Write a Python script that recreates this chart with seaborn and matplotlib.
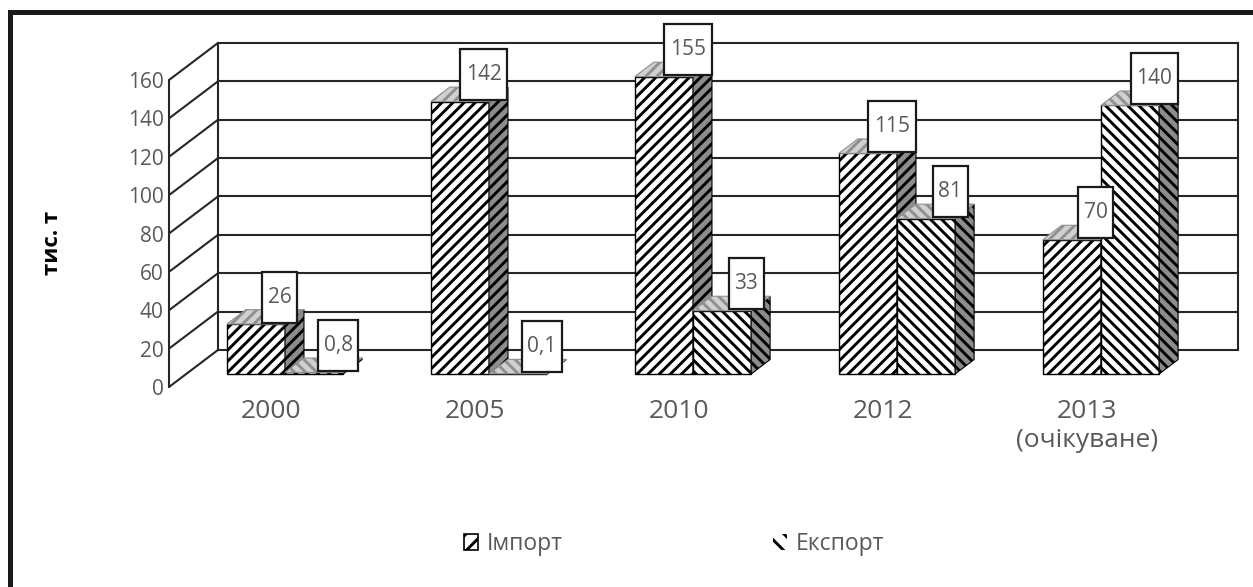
import numpy as np
import pandas as pd
import matplotlib
matplotlib.use('Agg')
import matplotlib.pyplot as plt
import seaborn as sns
from matplotlib.patches import Polygon, Rectangle, Patch
from matplotlib.path import Path
from matplotlib.transforms import ScaledTranslation

# ---------------- data ----------------
years = ['2000', '2005', '2010', '2012', '2013\n(очікуване)']
series = ['Імпорт', 'Експорт']
import_vals = [26, 142, 155, 115, 70]
export_vals = [0.8, 0.1, 33, 81, 140]
y_ticks = [0, 20, 40, 60, 80, 100, 120, 140, 160]
y_label = 'тис. т'

# ---------------- style ----------------
sns.set_style('white')
plt.rcParams['font.family'] = ['Open Sans', 'DejaVu Sans']
plt.rcParams['hatch.linewidth'] = 2.1

df = pd.DataFrame({
    'year': years * 2,
    'series': [series[0]] * len(years) + [series[1]] * len(years),
    'value': import_vals + export_vals,
})

W, H = 1253, 587
fig = plt.figure(figsize=(W / 100, H / 100), dpi=100)
ax = fig.add_axes([169 / W, (H - 387) / H, (1238 - 169) / W, 344 / H])

OFF = 6.8        # floor of bars above front zero (value units)
DEPTH_Y = 19.3   # wall depth (value units)
DEPTH_X = 0.24   # wall depth (category units)
BDX, BDY = 0.093, 7.5  # bar depth
XMIN, XMAX = -0.5686, 4.6716

sns.barplot(data=df, x='year', y='value', hue='series', order=years,
            hue_order=series, palette={series[0]: 'white', series[1]: 'white'},
            width=0.57, edgecolor='black', linewidth=1.0, saturation=1,
            errorbar=None, legend=False, ax=ax)

ax.set_xlim(XMIN, XMAX)
ax.set_ylim(-OFF, 160 + DEPTH_Y - OFF)

# ---------------- pseudo-3D walls ----------------
grid_c = '#262626'
for v in y_ticks:
    yb = v - OFF + DEPTH_Y
    ax.plot([XMIN + DEPTH_X, XMAX], [yb, yb], color=grid_c, lw=1.5,
            zorder=0.5, clip_on=False, solid_capstyle='projecting')
    ax.plot([XMIN, XMIN + DEPTH_X], [v - OFF, yb], color=grid_c, lw=1.5,
            zorder=0.5, clip_on=False)
ax.plot([XMIN, XMIN], [-OFF, 160 - OFF], color=grid_c, lw=1.5, zorder=0.5, clip_on=False)
ax.plot([XMIN + DEPTH_X] * 2, [DEPTH_Y - OFF, 160 + DEPTH_Y - OFF], color=grid_c,
        lw=1.5, zorder=0.5, clip_on=False)
ax.plot([XMAX] * 2, [DEPTH_Y - OFF, 160 + DEPTH_Y - OFF], color=grid_c,
        lw=1.5, zorder=0.5, clip_on=False)

# ---------------- bars: hatch + 3D faces ----------------
hatches = ['///', '\\\\\\']
for k, cont in enumerate(ax.containers):
    for bar in cont:
        bar.set_hatch(hatches[k])
        bar.set_zorder(2 + k)
        x0, w, h = bar.get_x(), bar.get_width(), bar.get_height()
        side = Polygon([(x0 + w, 0), (x0 + w + BDX, BDY), (x0 + w + BDX, h + BDY), (x0 + w, h)],
                       closed=True, fc='#8c8c8c', ec='black', lw=0.8,
                       hatch=hatches[k], zorder=2 + k + 0.1)
        top = Polygon([(x0, h), (x0 + BDX, h + BDY), (x0 + w + BDX, h + BDY), (x0 + w, h)],
                      closed=True, fc='#d0d0d0', ec='#909090', lw=0.8,
                      hatch=hatches[k], zorder=2 + k + 0.1)
        ax.add_patch(side)
        ax.add_patch(top)


def tall_box(x0, y0, width, height, mutation_size):
    px = 0.27 * mutation_size
    py = 0.72 * mutation_size
    verts = [(x0 - px, y0 - py), (x0 + width + px, y0 - py),
             (x0 + width + px, y0 + height + py), (x0 - px, y0 + height + py),
             (x0 - px, y0 - py)]
    return Path(verts, closed=True)


def fmt(v):
    return f'{v:g}'.replace('.', ',')


for cont, vals in zip(ax.containers, [import_vals, export_vals]):
    for bar, v in zip(cont, vals):
        ax.annotate(fmt(v), xy=(bar.get_x() + bar.get_width() / 2, v),
                    xytext=(24, 27), textcoords='offset pixels',
                    ha='center', va='center', fontsize=15, color='#595959',
                    bbox=dict(boxstyle=tall_box, fc='white', ec='#1a1a1a', lw=1.6),
                    zorder=10, annotation_clip=False)

# ---------------- axes text ----------------
ax.set_xticks(range(len(years)))
ax.set_xticklabels(years, fontsize=19, color='#595959')
ax.tick_params(axis='x', length=0, pad=9)
shift = ScaledTranslation(-14 / 100, 0, fig.dpi_scale_trans)
for lab in ax.get_xticklabels():
    lab.set_transform(lab.get_transform() + shift)

ax.set_yticks([v - OFF for v in y_ticks])
ax.set_yticklabels([str(v) for v in y_ticks], fontsize=15, color='#595959')
ax.tick_params(axis='y', length=0, pad=4)
for s in ax.spines.values():
    s.set_visible(False)
ax.set_xlabel('')
ax.set_ylabel('')
ax.patch.set_alpha(0)

fig.text(53 / W, 1 - 243 / H, y_label, rotation=90, ha='center', va='center',
         fontsize=16, fontweight='bold', color='black')

handles = [Patch(fc='white', ec='black', hatch='//', lw=1.2, label=series[0]),
           Patch(fc='white', ec='black', hatch='\\\\', lw=0, label=series[1])]
fig.legend(handles=handles, loc='center', bbox_to_anchor=(674 / W, 43 / H), ncol=2,
           frameon=False, fontsize=16.5, handlelength=0.62, handleheight=0.75,
           handletextpad=0.35, columnspacing=9.2, labelcolor='#595959', borderpad=0)

fig.add_artist(Rectangle((10 / W, -0.1), 1.2, 1 - 12 / H + 0.1, transform=fig.transFigure,
                         fill=False, ec='#1a1a1a', lw=3.6, clip_on=False))

fig.savefig('out.png', dpi=100)
